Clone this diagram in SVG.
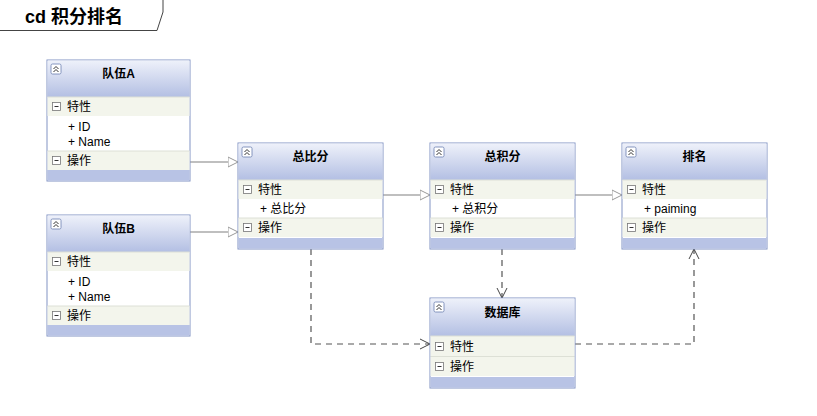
<svg xmlns="http://www.w3.org/2000/svg" width="817" height="416" viewBox="0 0 817 416">
<defs>
<linearGradient id="hg" x1="0" y1="0" x2="0" y2="1">
<stop offset="0" stop-color="#eef1fa"/>
<stop offset="1" stop-color="#b3bfe3"/>
</linearGradient>
<marker id="tri" markerWidth="12" markerHeight="12" refX="10" refY="6" orient="auto" markerUnits="userSpaceOnUse">
<path d="M0,1 L10,6 L0,11 Z" fill="#fff" stroke="#999" stroke-width="1"/>
</marker>
<marker id="open" markerWidth="12" markerHeight="12" refX="10" refY="6" orient="auto" markerUnits="userSpaceOnUse">
<path d="M0,1 L10,6 L0,11" fill="none" stroke="#444" stroke-width="1"/>
</marker>
<g id="col">
<rect x="0" y="0" width="10" height="10" rx="1.5" fill="#fff" stroke="#6b7fb0" stroke-width="0.8"/>
<path d="M2.5,5 L5,2.5 L7.5,5 M2.5,8 L5,5.5 L7.5,8" fill="none" stroke="#333" stroke-width="1"/>
</g>
<g id="mn">
<rect x="0.5" y="0.5" width="8" height="8" fill="#fff" stroke="#777" stroke-width="0.8"/>
<path d="M2.5,4.5 H6.5" stroke="#333" stroke-width="1"/>
</g>
</defs>
<style>
text{font-family:"Liberation Sans","Noto Sans CJK SC",sans-serif;font-size:12px;fill:#000}
.t{font-weight:bold;text-anchor:middle}
.box{fill:#fff;stroke:#8193c4;stroke-width:1}
.hd{fill:url(#hg)}
.cmp{fill:#f3f5ec}
.sep{stroke:#dde0d6;stroke-width:1}
.band{fill:#b8c3e5}
.sol{fill:none;stroke:#aaa;stroke-width:1.5;marker-end:url(#tri)}
.dsh{fill:none;stroke:#555;stroke-width:1.2;stroke-dasharray:6,5;marker-end:url(#open)}
</style>
<rect width="817" height="416" fill="#fff"/>
<g id="frame">
<path d="M0,30.5 H157 L163,12 V0" fill="none" stroke="#444" stroke-width="1"/>
<text x="25" y="23" style="font-size:18px;font-weight:bold">cd 积分排名</text>
</g>
<g id="connectors">
<path class="sol" d="M190,162 H238"/>
<path class="sol" d="M190,232 H238"/>
<path class="sol" d="M383,195 H430"/>
<path class="sol" d="M575,195 H622"/>
<path class="dsh" d="M502,249 V298"/>
<path class="dsh" d="M311,249 V344 H430"/>
<path class="dsh" d="M575,344 H694 V249"/>
</g>
<g id="teamA" transform="translate(47,60)">
<rect class="box" x="0" y="0" width="143" height="121"/>
<rect class="hd" x="0.5" y="0.5" width="142" height="36.5"/>
<use href="#col" x="4" y="4"/>
<text class="t" x="71.5" y="18">队伍A</text>
<rect class="cmp" x="0.5" y="37" width="142" height="19"/>
<line class="sep" x1="0.5" y1="37" x2="142.5" y2="37"/>
<use href="#mn" x="5" y="42"/>
<text x="20" y="51">特性</text>
<text x="21" y="71">+ ID</text>
<text x="21" y="86">+ Name</text>
<rect class="cmp" x="0.5" y="91" width="142" height="19"/>
<line class="sep" x1="0.5" y1="91" x2="142.5" y2="91"/>
<use href="#mn" x="5" y="96"/>
<text x="20" y="105">操作</text>
<rect class="band" x="0.5" y="110" width="142" height="10.5"/>
</g>
<g id="teamB" transform="translate(47,215)">
<rect class="box" x="0" y="0" width="143" height="121"/>
<rect class="hd" x="0.5" y="0.5" width="142" height="36.5"/>
<use href="#col" x="4" y="4"/>
<text class="t" x="71.5" y="18">队伍B</text>
<rect class="cmp" x="0.5" y="37" width="142" height="19"/>
<line class="sep" x1="0.5" y1="37" x2="142.5" y2="37"/>
<use href="#mn" x="5" y="42"/>
<text x="20" y="51">特性</text>
<text x="21" y="71">+ ID</text>
<text x="21" y="86">+ Name</text>
<rect class="cmp" x="0.5" y="91" width="142" height="19"/>
<line class="sep" x1="0.5" y1="91" x2="142.5" y2="91"/>
<use href="#mn" x="5" y="96"/>
<text x="20" y="105">操作</text>
<rect class="band" x="0.5" y="110" width="142" height="10.5"/>
</g>
<g id="zongbifen" transform="translate(238,143)">
<rect class="box" x="0" y="0" width="145" height="106"/>
<rect class="hd" x="0.5" y="0.5" width="144" height="36.5"/>
<use href="#col" x="4" y="4"/>
<text class="t" x="72.5" y="18">总比分</text>
<rect class="cmp" x="0.5" y="37" width="144" height="19"/>
<line class="sep" x1="0.5" y1="37" x2="144.5" y2="37"/>
<use href="#mn" x="5" y="42"/>
<text x="20" y="51">特性</text>
<text x="22" y="70">+ 总比分</text>
<rect class="cmp" x="0.5" y="75" width="144" height="19"/>
<line class="sep" x1="0.5" y1="75" x2="144.5" y2="75"/>
<use href="#mn" x="5" y="80"/>
<text x="20" y="89">操作</text>
<rect class="band" x="0.5" y="95" width="144" height="10.5"/>
</g>
<g id="zongjifen" transform="translate(430,143)">
<rect class="box" x="0" y="0" width="145" height="106"/>
<rect class="hd" x="0.5" y="0.5" width="144" height="36.5"/>
<use href="#col" x="4" y="4"/>
<text class="t" x="72.5" y="18">总积分</text>
<rect class="cmp" x="0.5" y="37" width="144" height="19"/>
<line class="sep" x1="0.5" y1="37" x2="144.5" y2="37"/>
<use href="#mn" x="5" y="42"/>
<text x="20" y="51">特性</text>
<text x="22" y="70">+ 总积分</text>
<rect class="cmp" x="0.5" y="75" width="144" height="19"/>
<line class="sep" x1="0.5" y1="75" x2="144.5" y2="75"/>
<use href="#mn" x="5" y="80"/>
<text x="20" y="89">操作</text>
<rect class="band" x="0.5" y="95" width="144" height="10.5"/>
</g>
<g id="paiming" transform="translate(622,143)">
<rect class="box" x="0" y="0" width="145" height="106"/>
<rect class="hd" x="0.5" y="0.5" width="144" height="36.5"/>
<use href="#col" x="4" y="4"/>
<text class="t" x="72.5" y="18">排名</text>
<rect class="cmp" x="0.5" y="37" width="144" height="19"/>
<line class="sep" x1="0.5" y1="37" x2="144.5" y2="37"/>
<use href="#mn" x="5" y="42"/>
<text x="20" y="51">特性</text>
<text x="22" y="70">+ paiming</text>
<rect class="cmp" x="0.5" y="75" width="144" height="19"/>
<line class="sep" x1="0.5" y1="75" x2="144.5" y2="75"/>
<use href="#mn" x="5" y="80"/>
<text x="20" y="89">操作</text>
<rect class="band" x="0.5" y="95" width="144" height="10.5"/>
</g>
<g id="shujuku" transform="translate(430,298)">
<rect class="box" x="0" y="0" width="145" height="90"/>
<rect class="hd" x="0.5" y="0.5" width="144" height="37.5"/>
<use href="#col" x="4" y="4"/>
<text class="t" x="72.5" y="19">数据库</text>
<rect class="cmp" x="0.5" y="38" width="144" height="20"/>
<line class="sep" x1="0.5" y1="38" x2="144.5" y2="38"/>
<use href="#mn" x="5" y="44"/>
<text x="20" y="53">特性</text>
<rect class="cmp" x="0.5" y="59" width="144" height="19"/>
<line class="sep" x1="0.5" y1="58.5" x2="144.5" y2="58.5"/>
<use href="#mn" x="5" y="64"/>
<text x="20" y="73">操作</text>
<rect class="band" x="0.5" y="79" width="144" height="10.5"/>
</g>
</svg>
